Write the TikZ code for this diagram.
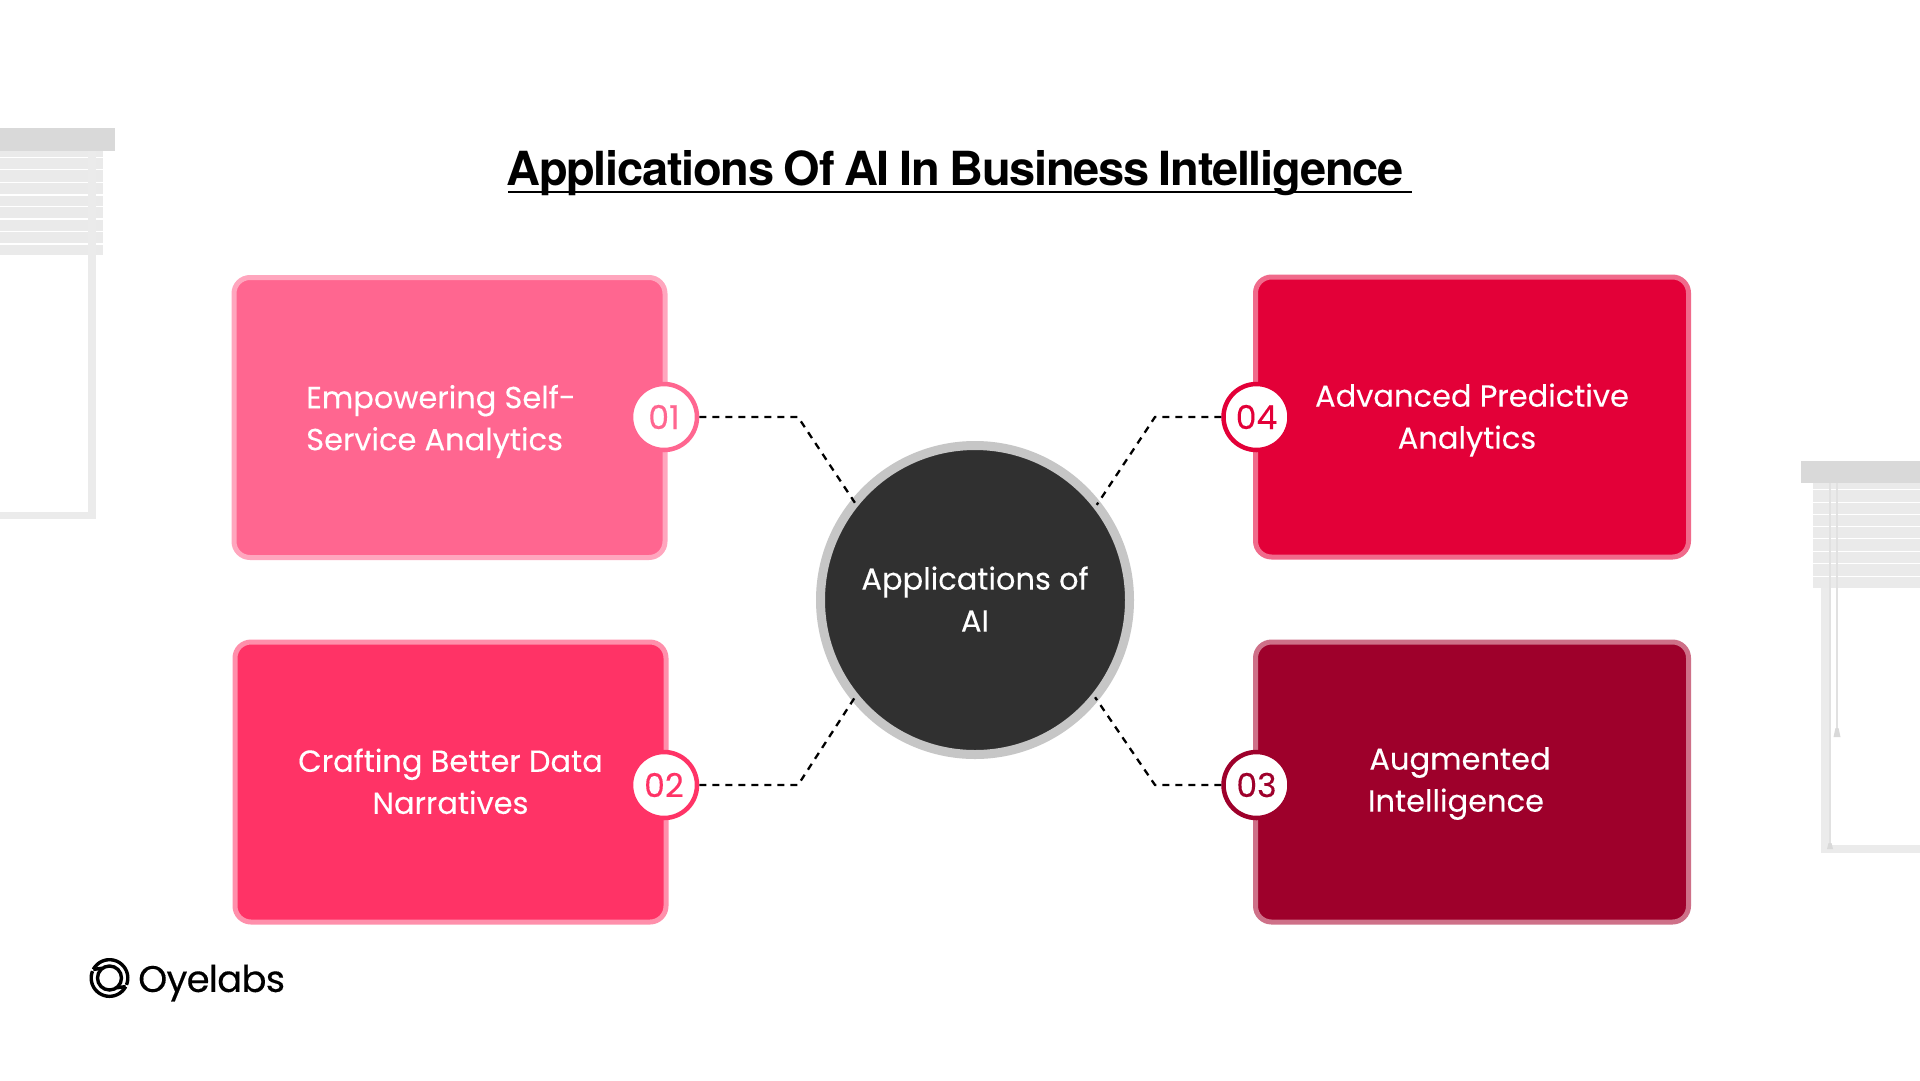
\documentclass[tikz,border=0pt]{standalone}
\usepackage{fontspec}
\setmainfont{Poppins}[FakeBold=0.18]
\newfontfamily\titlefont[LetterSpace=-2.7,WordSpace=0.8]{TeX Gyre Heros}
\newfontfamily\logofont[LetterSpace=-2.0,FakeBold=0.3]{Poppins}
\definecolor{cardA}{HTML}{FF6690}
\definecolor{cardAb}{HTML}{FFA6BE}
\definecolor{cardB}{HTML}{FF3366}
\definecolor{cardBb}{HTML}{FF8FAB}
\definecolor{cardC}{HTML}{9E002B}
\definecolor{cardCb}{HTML}{CE7088}
\definecolor{cardD}{HTML}{E30038}
\definecolor{cardDb}{HTML}{F06A8B}
\definecolor{hubfill}{HTML}{303030}
\definecolor{hubring}{HTML}{C6C6C6}
\definecolor{valance}{HTML}{D9D9D9}
\definecolor{slat}{HTML}{EAEAEA}
\definecolor{frame}{HTML}{EBEBEB}
\tikzset{
  card/.style={rectangle,rounded corners=16pt,line width=5pt,minimum width=431pt,minimum height=280pt,inner sep=0pt,outer sep=0pt},
  cardtext/.style={text=white,font=\fontsize{30.5}{42}\selectfont,inner sep=0pt,align=center},
  badge/.style={circle,draw=#1,line width=4.5pt,fill=white,text=#1,minimum size=66pt,inner sep=0pt,font=\fontsize{33}{36}\selectfont},
  hubnode/.style={circle,fill=hubfill,draw=hubring,line width=9pt,minimum size=309pt,inner sep=0pt,outer sep=0pt},
  link/.style={black,line width=2.3pt,dash pattern=on 7pt off 6pt},
  logoarc/.style={line width=3.4pt,black,line cap=butt}
}
\begin{document}
\begin{tikzpicture}[x=1pt,y=-1pt]
\useasboundingbox (0,0) rectangle (1920,1080);
\fill[white] (0,0) rectangle (1920,1080);
% left blind
\fill[frame] (88,151) rectangle (96,519);
\fill[frame] (0,512) rectangle (96,519);
\fill[slat] (0,151) rectangle (103,255);
\fill[frame] (88,151) rectangle (96,255);
\foreach \yy in {156.7,169,181.7,194.3,206,218.3,231,243.3}{
  \fill[white] (0,\yy) rectangle (88,\yy+1.3);
  \fill[white] (96,\yy) rectangle (103,\yy+1.3);
}
\fill[valance] (0,128) rectangle (115,151);
% right blind
\fill[frame] (1821,483) rectangle (1830,853);
\fill[frame] (1821,845) rectangle (1920,853);
\fill[slat] (1813,483) rectangle (1920,588);
\foreach \yy in {489,502,514,526,538,551,563,576}{
  \fill[white] (1813,\yy) rectangle (1920,\yy+1.3);
}
\fill[valance!80!white] (1829.3,483) rectangle (1830.7,845);
\fill[valance!80!white] (1836.3,483) rectangle (1837.7,728);
\fill[valance] (1835.5,728) -- (1838.5,728) -- (1840.5,737) -- (1833.5,737) -- cycle;
\fill[valance] (1828.5,843) -- (1831.5,843) -- (1833,849) -- (1827,849) -- cycle;
\fill[valance] (1801,461) rectangle (1920,483);
% title
\node[font=\titlefont\bfseries\fontsize{47}{50}\selectfont,text=black,inner sep=0pt,anchor=center] (title) at (955,173) {Applications Of AI In Business Intelligence};
\coordinate (ulL) at (508,192);
\coordinate (ulR) at (1412,192);
\draw[black,line width=2.8pt] (ulL) -- (ulR);
% cards
\node[card,fill=cardA,draw=cardAb] (c1) at (449.5,417.5) {};
\node[card,fill=cardB,draw=cardBb] (c2) at (450.5,782) {};
\node[card,fill=cardD,draw=cardDb,minimum width=433pt] (c4) at (1472,417) {};
\node[card,fill=cardC,draw=cardCb,minimum width=433pt] (c3) at (1472,782) {};
% card texts
\node[cardtext,align=left,anchor=west] (t1) at (306,421.5) {Empowering Self-\\Service Analytics};
\node[cardtext] (t2) at (450.5,781.3) {Crafting Better Data\\Narratives};
\node[cardtext] (t4) at (1472,420) {Advanced Predictive\\\hspace*{-10pt}Analytics};
\node[cardtext] (t3) at (1456,783.5) {\hspace*{8pt}Augmented\\Intelligence};
% hub
\node[hubnode] (hub) at (975,600) {};
\node[cardtext] (hubt) at (975,599) {Applications of\\AI};
% badges
\node[badge=cardA] (b1) at (664,417) {01};
\node[badge=cardB] (b2) at (664,785) {02};
\node[badge=cardD] (b4) at (1256.5,417) {04};
\node[badge=cardC] (b3) at (1256.5,785) {03};
% connectors
\coordinate (e1) at (798,417);
\coordinate (e2) at (798,785);
\coordinate (e4) at (1155,417);
\coordinate (e3) at (1155,785);
\draw[link] (b1.east) -- (e1) -- (hub.141);
\draw[link] (b2.east) -- (e2) -- (hub.219);
\draw[link] (b4.west) -- (e4) -- (hub.38);
\draw[link] (b3.west) -- (e3) -- (hub.321);
% logo
\begin{scope}[shift={(109.5,978)},y=1pt]
  \draw[logoarc] plot[domain=152:-22,samples=40,smooth] ({18.3*cos(\x)},{18.3*sin(\x)});
  \draw[logoarc] plot[domain=-28:-202,samples=40,smooth] ({18.3*cos(\x)},{18.3*sin(\x)});
  \draw[logoarc] (0,0) circle[radius=12pt];
  \draw[logoarc] ({18.3*cos(152)},{18.3*sin(152)}) -- ({12*cos(125)},{12*sin(125)});
  \draw[logoarc] ({18.3*cos(-28)},{18.3*sin(-28)}) -- ({12*cos(-55)},{12*sin(-55)});
\end{scope}
\node[font=\logofont\fontsize{37}{40}\selectfont,text=black,inner sep=0pt,anchor=west] (logo) at (138,983) {Oyelabs};
\end{tikzpicture}
\end{document}
